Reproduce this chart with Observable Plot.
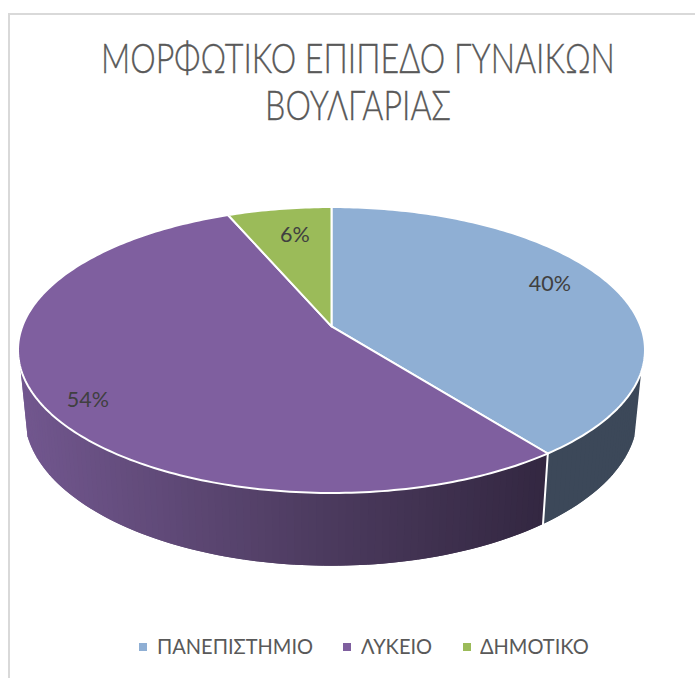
<!DOCTYPE html>
<html lang="el">
<head>
<meta charset="utf-8">
<script src="https://cdn.jsdelivr.net/npm/d3@7"></script>
<script src="https://cdn.jsdelivr.net/npm/@observablehq/plot@0.6"></script>
<style>
  html, body { margin: 0; background: #fff; }
  body { width: 695px; height: 678px; position: relative; overflow: hidden; font-family: Lato, "Open Sans", "Noto Sans", sans-serif; }
  #frame { position: absolute; left: 8px; top: 13px; right: 0; bottom: 0; border-left: 2px solid #d9d9d9; border-top: 2px solid #d9d9d9; }
  #head { position: relative; height: 130px; }
  #head div { position: absolute; left: 0; width: 716px; text-align: center; color: #595959; font-size: 41px; font-weight: 300; -webkit-text-stroke: 0.35px #595959; line-height: 46px; white-space: nowrap; transform: scaleX(0.785); transform-origin: 50% 50%; }
  #chart { position: relative; height: 480px; }
  #chart svg { display: block; }
  #legend { position: relative; height: 68px; }
  #legend span { position: absolute; top: 22px; color: #595959; font-size: 22px; line-height: 28px; white-space: nowrap; transform: scaleX(0.91); transform-origin: 0 50%; }
  #legend i { position: absolute; top: 33px; width: 8px; height: 8px; }
</style>
</head>
<body>
<div id="frame"></div>
<div id="head"></div>
<div id="chart"></div>
<div id="legend"></div>
<script>
const titleLines = ["ΜΟΡΦΩΤΙΚΟ ΕΠΙΠΕΔΟ ΓΥΝΑΙΚΩΝ", "ΒΟΥΛΓΑΡΙΑΣ"];
const categories = ["ΠΑΝΕΠΙΣΤΗΜΙΟ", "ΛΥΚΕΙΟ", "ΔΗΜΟΤΙΚΟ"];
const shares = [39.6, 54.1, 6.3];
const topColors = ["#8fafd4", "#7f5f9f", "#9bbb59"];

// Perspective of the disc, in units of its on-screen half-axes.
const tilt = 0.165;                      // foreshortening of far vs. near rim
const apexY = -23.5 / 142.5;             // where the pie centre lands on the ellipse
const spreadX = 308.7 / 313, spreadY = 138.6 / 142.5;
const floor = {cy: 65.5 / 142.5, rx: 306 / 313, ry: 150 / 142.5};

const rim = (theta) => {
  const d = 1 + tilt * Math.cos(theta);
  return [spreadX * Math.sin(theta) / d, apexY - spreadY * Math.cos(theta) / d];
};

const total = d3.sum(shares);
let acc = 0;
const slices = shares.map((v, i) => {
  const a0 = acc / total * 2 * Math.PI; acc += v;
  return {i, a0, a1: acc / total * 2 * Math.PI, name: categories[i], value: v};
});

// Top faces
const topFace = slices.flatMap((s) => {
  const n = Math.ceil((s.a1 - s.a0) * 60);
  const pts = [{i: s.i, x: 0, y: apexY}];
  for (let k = 0; k <= n; ++k) {
    const [x, y] = rim(s.a0 + (s.a1 - s.a0) * k / n);
    pts.push({i: s.i, x, y});
  }
  return pts;
});

// Side wall: overlapping strips along the visible front of the rim
const wallStart = 8 * Math.PI / 180, wallEnd = 172 * Math.PI / 180;
const paramOf = (theta) => { const [x, y] = rim(theta); return Math.atan2(y, x); };
const cut = paramOf(slices[0].a1);          // first slice / second slice on the rim
const purpleShade = d3.scaleLinear().domain([-1, 0, 0.69]).range(["#72578f", "#4b3a5d", "#332741"]).clamp(true);
const blueSide = "#3c4859";
const stripCount = 120;
const step = (wallEnd - wallStart) / stripCount;
const wall = [];
d3.range(stripCount).forEach((k) => {
  const t0 = wallStart + step * k;
  const t1 = Math.min(t0 + 2 * step, wallEnd);
  const fill = t0 + step / 2 < cut ? blueSide : purpleShade(Math.cos(t0 + step / 2));
  [t0, t1].forEach((t) => wall.push({
    k, fill,
    x1: Math.cos(t), y1: Math.sin(t),
    x2: floor.rx * Math.cos(t), y2: floor.cy + floor.ry * Math.sin(t)
  }));
});
const divider = [
  {x: Math.cos(cut), y: Math.sin(cut)},
  {x: floor.rx * Math.cos(cut), y: floor.cy + floor.ry * Math.sin(cut)}
];

// Labels sit inside the rim, fitted like "inside end" labels
const labelPull = [[0.785, 1], [0.835, 0.975], [0.7, 0.78]];
const labels = slices.map((s) => {
  const [x, y] = rim((s.a0 + s.a1) / 2);
  const [fx, fy] = labelPull[s.i];
  return {x: x * fx, y: apexY + (y - apexY) * fy, text: `${Math.round(s.value / total * 100)}%`};
});

document.getElementById("head").innerHTML = titleLines
  .map((t, i) => `<div style="top:${35 + i * 47}px">${t}</div>`).join("");

const chart = Plot.plot({
  width: 695, height: 480,
  margin: 0,
  x: {domain: [-1, 1], range: [17.5, 644.5], axis: null},
  y: {domain: [-1, 1], range: [76.5, 362.5], axis: null},
  color: {type: "identity"},
  style: {background: "transparent", overflow: "visible"},
  marks: [
    Plot.area(wall, {x1: "x1", y1: "y1", x2: "x2", y2: "y2", z: "k", fill: "fill"}),
    Plot.line(divider, {x: "x", y: "y", stroke: "#fff", strokeWidth: 2}),
    Plot.line(topFace, {x: "x", y: "y", z: "i", fill: (d) => topColors[d.i], stroke: "#fff", strokeWidth: 2, curve: "linear-closed", strokeLinejoin: "round"}),
    Plot.text(labels, {x: "x", y: "y", text: "text", fill: "#404040", fontSize: 21.5, fontFamily: "Lato, 'Open Sans', sans-serif"})
  ]
});
document.getElementById("chart").append(chart);

const legendX = [[139, 157], [343, 361], [463, 480]];
document.getElementById("legend").innerHTML = categories.map((c, i) =>
  `<i style="left:${legendX[i][0]}px;background:${topColors[i]}"></i><span style="left:${legendX[i][1]}px">${c}</span>`
).join("");
</script>
</body>
</html>
